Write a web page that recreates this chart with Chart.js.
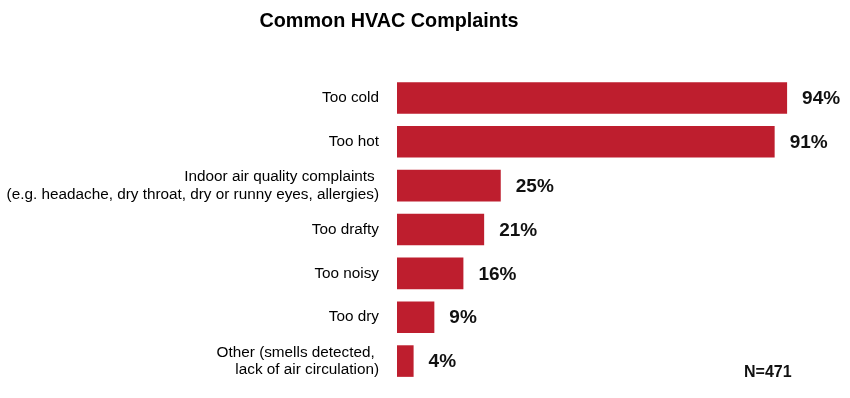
<!DOCTYPE html>
<html>
<head>
<meta charset="utf-8">
<script src="https://cdn.jsdelivr.net/npm/chart.js@4"></script>
<style>
  html, body { margin: 0; padding: 0; background: #ffffff; }
  #wrap { width: 850px; height: 398px; position: relative; }
</style>
</head>
<body>
<div id="wrap"><canvas id="c" width="850" height="398"></canvas></div>
<script>
const chartTitle = "Common HVAC Complaints";
const sampleNote = "N=471";
const categories = [
  "Too cold",
  "Too hot",
  ["Indoor air quality complaints ", "(e.g. headache, dry throat, dry or runny eyes, allergies)"],
  "Too drafty",
  "Too noisy",
  "Too dry",
  ["Other (smells detected, ", "lack of air circulation)"]
];
const percentages = [94, 91, 25, 21, 16, 9, 4];
const xMin = 0;
const xMax = 100;

const FONT = "'Liberation Sans', Arial, Helvetica, sans-serif";

const annotations = {
  id: 'annotations',
  afterDatasetsDraw(chart) {
    const ctx = chart.ctx;
    const meta = chart.getDatasetMeta(0);
    ctx.save();
    ctx.font = "bold 19px " + FONT;
    ctx.fillStyle = "#111111";
    ctx.textAlign = "left";
    ctx.textBaseline = "middle";
    meta.data.forEach((bar, i) => {
      ctx.fillText(percentages[i] + "%", bar.x + 15, bar.y + 1);
    });
    ctx.restore();
  },
  afterDraw(chart) {
    const ctx = chart.ctx;
    ctx.save();
    ctx.fillStyle = "#000000";
    ctx.font = "bold 19.8px " + FONT;
    ctx.textAlign = "center";
    ctx.textBaseline = "alphabetic";
    ctx.fillText(chartTitle, 389, 27);
    ctx.font = "bold 16px " + FONT;
    ctx.textAlign = "left";
    ctx.fillStyle = "#111111";
    ctx.fillText(sampleNote, 744, 377);
    ctx.restore();
  }
};

new Chart(document.getElementById('c'), {
  type: 'bar',
  data: {
    labels: categories,
    datasets: [{
      data: percentages,
      backgroundColor: '#BE1E2E',
      borderWidth: 0,
      barPercentage: 0.72,
      categoryPercentage: 1.0
    }]
  },
  options: {
    indexAxis: 'y',
    responsive: false,
    animation: false,
    layout: { padding: { top: 76, bottom: 15, left: 0, right: 38 } },
    plugins: {
      legend: { display: false },
      title: { display: false },
      tooltip: { enabled: false }
    },
    scales: {
      x: { display: false, min: xMin, max: xMax },
      y: {
        grid: { display: false, drawTicks: false },
        border: { display: false },
        afterFit(scale) {
          scale.width = 397;
          scale.paddingTop = 0;
          scale.paddingBottom = 0;
        },
        ticks: {
          color: '#000000',
          padding: 18,
          font: { family: FONT, size: 15.3, lineHeight: 1.15 }
        }
      }
    }
  },
  plugins: [annotations]
});
</script>
</body>
</html>
